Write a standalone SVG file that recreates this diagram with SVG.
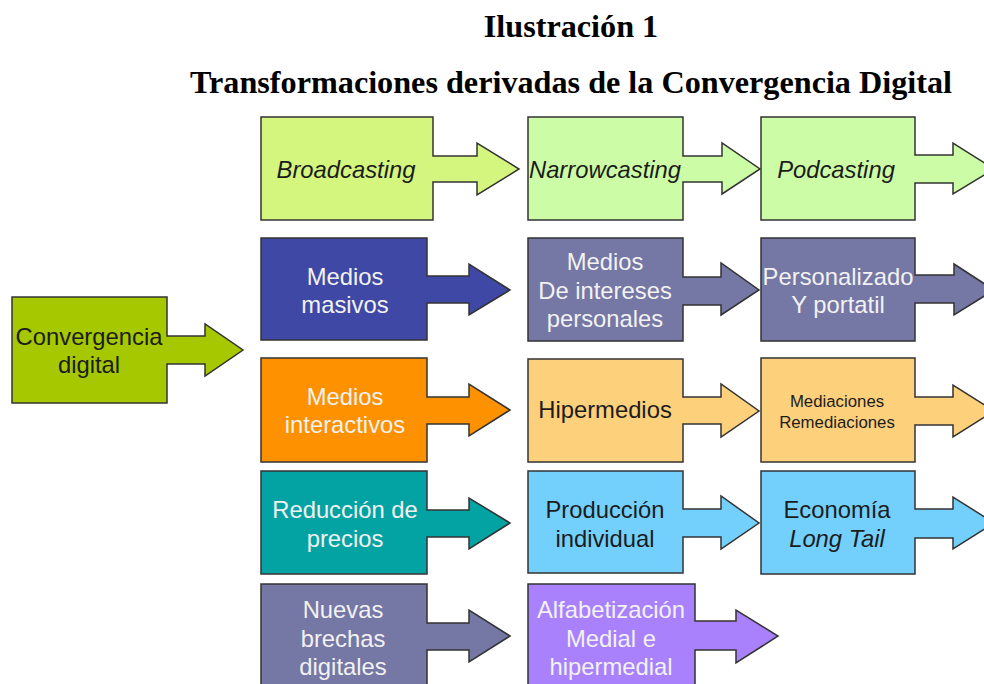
<svg xmlns="http://www.w3.org/2000/svg" width="984" height="684" viewBox="0 0 984 684">
<style>
.shape{stroke:#333333;stroke-width:1.5;stroke-linejoin:miter}
.t{font-family:"Liberation Sans",Arial,sans-serif;font-size:23.8px;text-anchor:middle}
.dk{fill:#1c1c1c}
.lt{fill:#f2f2f2}
.it{font-style:italic}
.sm{font-size:16.8px}
.title{font-family:"Liberation Serif","Times New Roman",serif;font-weight:bold;font-size:32.2px;text-anchor:middle;fill:#000}
</style>
<rect width="984" height="684" fill="#ffffff"/>
<g id="title">
<text class="title" x="571" y="37">Ilustración 1</text>
<text class="title" x="571" y="93">Transformaciones derivadas de la Convergencia Digital</text>
</g>
<g id="connectors"/>
<g id="convergencia">
<path class="shape" fill="#a5c800" d="M12,297 H167 V336 H205 V324 L243,350 L205,376 V364 H167 V403 H12 Z"/>
<text class="t dk" x="89" y="345">Convergencia</text>
<text class="t dk" x="89" y="373">digital</text>
</g>
<g id="broadcasting">
<path class="shape" fill="#d4f67e" d="M261,117 H433 V156 H477 V143 L519,169 L477,195 V182 H433 V220 H261 Z"/>
<text class="t dk it" x="346" y="178">Broadcasting</text>
</g>
<g id="narrowcasting">
<path class="shape" fill="#ccfca6" d="M528,117 H683 V156 H722 V143 L760,169 L722,194 V182 H683 V220 H528 Z"/>
<text class="t dk it" x="605" y="178">Narrowcasting</text>
</g>
<g id="podcasting">
<path class="shape" fill="#ccfca6" d="M761,117 H915 V155 H953 V143 L994,169 L953,194 V183 H915 V220 H761 Z"/>
<text class="t dk it" x="836" y="178">Podcasting</text>
</g>
<g id="medios-masivos">
<path class="shape" fill="#3f48a5" d="M261,238 H427 V276 H469 V264 L510,290 L469,315 V303 H427 V340 H261 Z"/>
<text class="t lt" x="345" y="285">Medios</text>
<text class="t lt" x="345" y="313">masivos</text>
</g>
<g id="medios-intereses">
<path class="shape" fill="#7577a5" d="M528,238 H683 V277 H721 V263 L759,290 L721,315 V305 H683 V341 H528 Z"/>
<text class="t lt" x="605" y="270">Medios</text>
<text class="t lt" x="605" y="299">De intereses</text>
<text class="t lt" x="605" y="327">personales</text>
</g>
<g id="personalizado">
<path class="shape" fill="#7577a5" d="M761,238 H915 V275 H954 V264 L994,290 L954,315 V303 H915 V341 H761 Z"/>
<text class="t lt" x="838" y="285">Personalizado</text>
<text class="t lt" x="838" y="313">Y portatil</text>
</g>
<g id="medios-interactivos">
<path class="shape" fill="#fe9100" d="M261,358 H427 V397 H469 V384 L510,410 L469,436 V424 H427 V462 H261 Z"/>
<text class="t lt" x="345" y="405">Medios</text>
<text class="t lt" x="345" y="433">interactivos</text>
</g>
<g id="hipermedios">
<path class="shape" fill="#fdd07c" d="M528,359 H683 V397 H721 V384 L759,411 L721,437 V424 H683 V462 H528 Z"/>
<text class="t dk" x="605" y="418">Hipermedios</text>
</g>
<g id="mediaciones">
<path class="shape" fill="#fdd07c" d="M761,358 H915 V397 H953 V385 L994,411 L953,437 V425 H915 V462 H761 Z"/>
<text class="t dk sm" x="837" y="407">Mediaciones</text>
<text class="t dk sm" x="837" y="428">Remediaciones</text>
</g>
<g id="reduccion">
<path class="shape" fill="#04a3a3" d="M261,471 H427 V510 H469 V498 L510,523 L469,549 V537 H427 V574 H261 Z"/>
<text class="t lt" x="345" y="518">Reducción de</text>
<text class="t lt" x="345" y="547">precios</text>
</g>
<g id="produccion">
<path class="shape" fill="#73d0fd" d="M528,471 H683 V509 H721 V496 L759,523 L721,549 V537 H683 V573 H528 Z"/>
<text class="t dk" x="605" y="518">Producción</text>
<text class="t dk" x="605" y="547">individual</text>
</g>
<g id="economia">
<path class="shape" fill="#73d0fd" d="M761,471 H915 V509 H953 V497 L994,523 L953,549 V538 H915 V574 H761 Z"/>
<text class="t dk" x="837" y="518">Economía</text>
<text class="t dk it" x="837" y="547">Long Tail</text>
</g>
<g id="nuevas-brechas">
<path class="shape" fill="#7577a5" d="M261,584 H427 V623 H469 V610 L510,636 L469,662 V650 H427 V700 H261 Z"/>
<text class="t lt" x="343" y="618">Nuevas</text>
<text class="t lt" x="343" y="647">brechas</text>
<text class="t lt" x="343" y="675">digitales</text>
</g>
<g id="alfabetizacion">
<path class="shape" fill="#a981fc" d="M528,584 H695 V621 H736 V610 L778,636 L736,663 V650 H695 V700 H528 Z"/>
<text class="t lt" x="611" y="618">Alfabetización</text>
<text class="t lt" x="611" y="647">Medial e</text>
<text class="t lt" x="611" y="675">hipermedial</text>
</g>
</svg>
